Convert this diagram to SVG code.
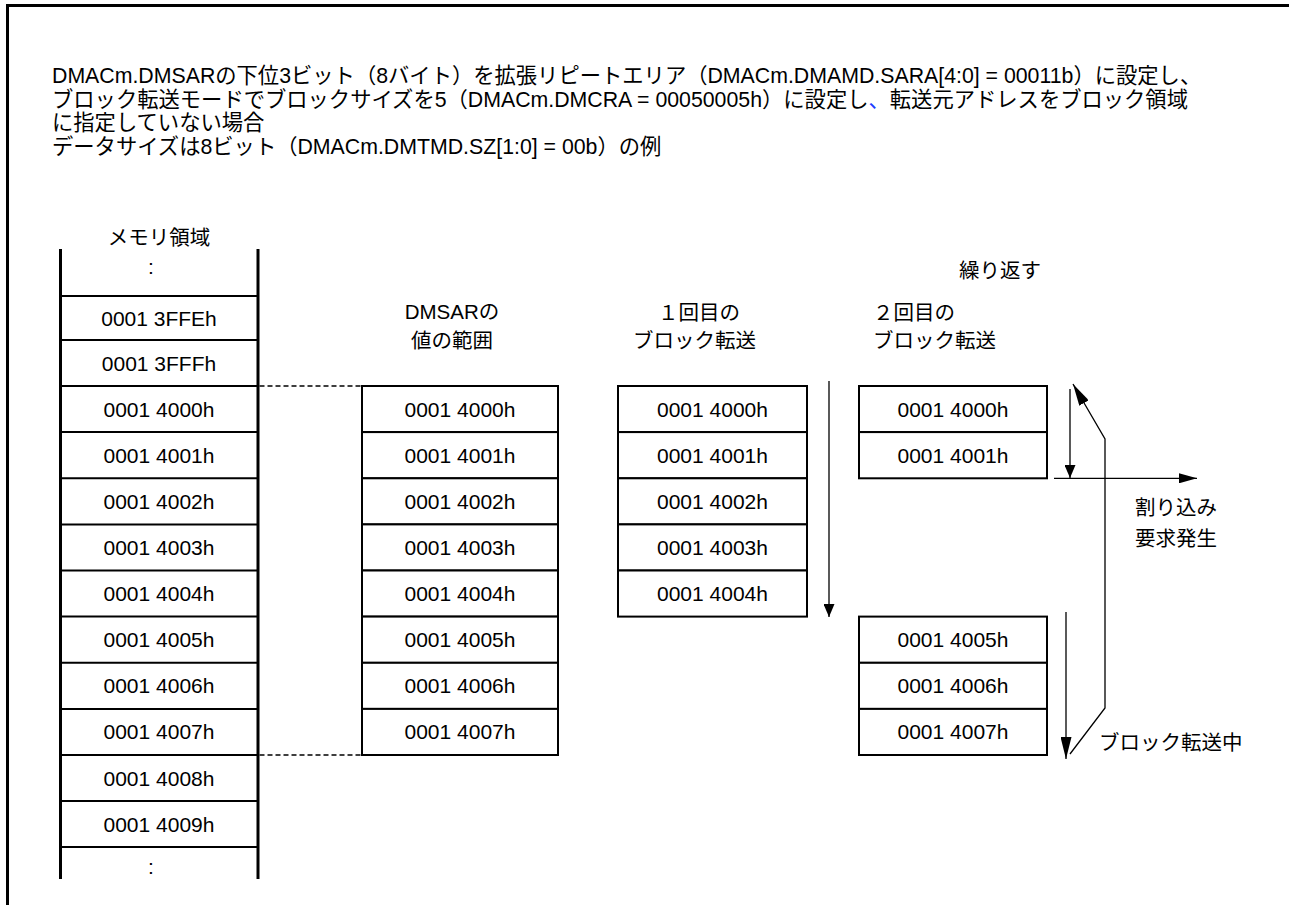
<svg xmlns="http://www.w3.org/2000/svg" width="1289" height="905" viewBox="0 0 1289 905">
<style>
text{font-family:"Liberation Sans","Noto Sans CJK JP",sans-serif;fill:#000}
.t{font-size:20.5px}
.h{font-size:21.3px}
.m{font-size:20.5px;text-anchor:middle}
.c{font-size:21px;text-anchor:middle}
.box{fill:#fff;stroke:#000;stroke-width:2}
.hl{stroke:#000;stroke-width:2}
.vl{stroke:#000;stroke-width:3}
.ln{stroke:#000;stroke-width:1.3;fill:none}
.dash{stroke:#000;stroke-width:1.5;stroke-dasharray:5 3}
</style>
<defs>
<marker id="ah" markerUnits="userSpaceOnUse" markerWidth="13" markerHeight="11" refX="13" refY="5.5" orient="auto"><path d="M0,0 L13,5.5 L0,11 z" fill="#000"/></marker>
<marker id="ahh" markerUnits="userSpaceOnUse" markerWidth="18" markerHeight="10" refX="18" refY="5" orient="auto"><path d="M0,0 L18,5 L0,10 z" fill="#000"/></marker>
<marker id="ahl" markerUnits="userSpaceOnUse" markerWidth="22" markerHeight="11" refX="22" refY="5.5" orient="auto"><path d="M0,0 L22,5.5 L0,11 z" fill="#000"/></marker>
</defs>

<path d="M7.5,905 V5.5 H1289" fill="none" stroke="#000" stroke-width="3"/>

<g id="caption">
<text class="h" x="52" y="83">DMACm.DMSARの下位3ビット（8バイト）を拡張リピートエリア（DMACm.DMAMD.SARA[4:0] = 00011b）に設定し、</text>
<text class="h" x="52" y="107">ブロック転送モードでブロックサイズを5（DMACm.DMCRA = 00050005h）に設定し<tspan fill="#1a3cff">、</tspan>転送元アドレスをブロック領域</text>
<text class="h" x="52" y="130">に指定していない場合</text>
<text class="h" x="52" y="154">データサイズは8ビット（DMACm.DMTMD.SZ[1:0] = 00b）の例</text>
</g>

<g id="labels">
<text class="m" x="159" y="245">メモリ領域</text>
<text class="m" x="452" y="319">DMSARの</text>
<text class="m" x="452" y="348">値の範囲</text>
<text class="t" x="658" y="320">１回目の</text>
<text class="t" x="633" y="348">ブロック転送</text>
<text class="t" x="873" y="320">２回目の</text>
<text class="t" x="873" y="348">ブロック転送</text>
<text class="m" x="1000" y="278">繰り返す</text>
<text class="t" x="1135" y="515">割り込み</text>
<text class="t" x="1135" y="546">要求発生</text>
<text class="t" x="1099" y="750">ブロック転送中</text>
</g>

<g id="memory">
<line class="vl" x1="60.5" y1="249" x2="60.5" y2="879"/>
<line class="vl" x1="258" y1="249" x2="258" y2="879"/>
<line class="hl" x1="60.5" y1="296" x2="258" y2="296"/>
<line class="hl" x1="60.5" y1="340" x2="258" y2="340"/>
<line class="hl" x1="60.5" y1="386" x2="258" y2="386"/>
<line class="hl" x1="60.5" y1="432.1" x2="258" y2="432.1"/>
<line class="hl" x1="60.5" y1="478.3" x2="258" y2="478.3"/>
<line class="hl" x1="60.5" y1="524.4" x2="258" y2="524.4"/>
<line class="hl" x1="60.5" y1="570.5" x2="258" y2="570.5"/>
<line class="hl" x1="60.5" y1="616.6" x2="258" y2="616.6"/>
<line class="hl" x1="60.5" y1="662.8" x2="258" y2="662.8"/>
<line class="hl" x1="60.5" y1="708.9" x2="258" y2="708.9"/>
<line class="hl" x1="60.5" y1="755" x2="258" y2="755"/>
<line class="hl" x1="60.5" y1="801" x2="258" y2="801"/>
<line class="hl" x1="60.5" y1="847" x2="258" y2="847"/>
<text class="c" x="151" y="273.5">:</text>
<text class="c" x="159" y="325.5">0001 3FFEh</text>
<text class="c" x="159" y="370.5">0001 3FFFh</text>
<text class="c" x="159" y="416.6">0001 4000h</text>
<text class="c" x="159" y="462.7">0001 4001h</text>
<text class="c" x="159" y="508.8">0001 4002h</text>
<text class="c" x="159" y="554.9">0001 4003h</text>
<text class="c" x="159" y="601.1">0001 4004h</text>
<text class="c" x="159" y="647.2">0001 4005h</text>
<text class="c" x="159" y="693.3">0001 4006h</text>
<text class="c" x="159" y="739.4">0001 4007h</text>
<text class="c" x="159" y="785.5">0001 4008h</text>
<text class="c" x="159" y="831.5">0001 4009h</text>
<text class="c" x="151" y="873.5">:</text>
</g>

<g id="dmsar-range">
<rect class="box" x="362" y="386" width="196" height="46.1"/>
<rect class="box" x="362" y="432.1" width="196" height="46.2"/>
<rect class="box" x="362" y="478.3" width="196" height="46.1"/>
<rect class="box" x="362" y="524.4" width="196" height="46.1"/>
<rect class="box" x="362" y="570.5" width="196" height="46.1"/>
<rect class="box" x="362" y="616.6" width="196" height="46.2"/>
<rect class="box" x="362" y="662.8" width="196" height="46.1"/>
<rect class="box" x="362" y="708.9" width="196" height="46.1"/>
<text class="c" x="460" y="416.6">0001 4000h</text>
<text class="c" x="460" y="462.7">0001 4001h</text>
<text class="c" x="460" y="508.8">0001 4002h</text>
<text class="c" x="460" y="554.9">0001 4003h</text>
<text class="c" x="460" y="601.1">0001 4004h</text>
<text class="c" x="460" y="647.2">0001 4005h</text>
<text class="c" x="460" y="693.3">0001 4006h</text>
<text class="c" x="460" y="739.4">0001 4007h</text>
</g>

<g id="transfer-1">
<rect class="box" x="618" y="386" width="189" height="46.1"/>
<rect class="box" x="618" y="432.1" width="189" height="46.2"/>
<rect class="box" x="618" y="478.3" width="189" height="46.1"/>
<rect class="box" x="618" y="524.4" width="189" height="46.1"/>
<rect class="box" x="618" y="570.5" width="189" height="46.1"/>
<text class="c" x="712.5" y="416.6">0001 4000h</text>
<text class="c" x="712.5" y="462.7">0001 4001h</text>
<text class="c" x="712.5" y="508.8">0001 4002h</text>
<text class="c" x="712.5" y="554.9">0001 4003h</text>
<text class="c" x="712.5" y="601.1">0001 4004h</text>
</g>

<g id="transfer-2a">
<rect class="box" x="859" y="386" width="188" height="46.1"/>
<rect class="box" x="859" y="432.1" width="188" height="46.2"/>
<text class="c" x="953" y="416.6">0001 4000h</text>
<text class="c" x="953" y="462.7">0001 4001h</text>
</g>

<g id="transfer-2b">
<rect class="box" x="859" y="616.6" width="188" height="46.2"/>
<rect class="box" x="859" y="662.8" width="188" height="46.1"/>
<rect class="box" x="859" y="708.9" width="188" height="46.1"/>
<text class="c" x="953" y="647.2">0001 4005h</text>
<text class="c" x="953" y="693.3">0001 4006h</text>
<text class="c" x="953" y="739.4">0001 4007h</text>
</g>

<g id="connectors">
<line class="dash" x1="259.5" y1="386" x2="372" y2="386"/>
<line class="dash" x1="259.5" y1="755" x2="372" y2="755"/>
<line class="ln" x1="829" y1="381" x2="829" y2="617" marker-end="url(#ah)"/>
<line class="ln" x1="1070" y1="389" x2="1070" y2="478" marker-end="url(#ah)"/>
<line class="ln" x1="1054" y1="478.3" x2="1197" y2="478.3" marker-end="url(#ahh)"/>
<line class="ln" x1="1066" y1="612" x2="1066" y2="759" marker-end="url(#ahl)"/>
<path class="ln" d="M1070,754 L1105,708 L1105,439 L1073,384" marker-end="url(#ahl)"/>
</g>
</svg>
